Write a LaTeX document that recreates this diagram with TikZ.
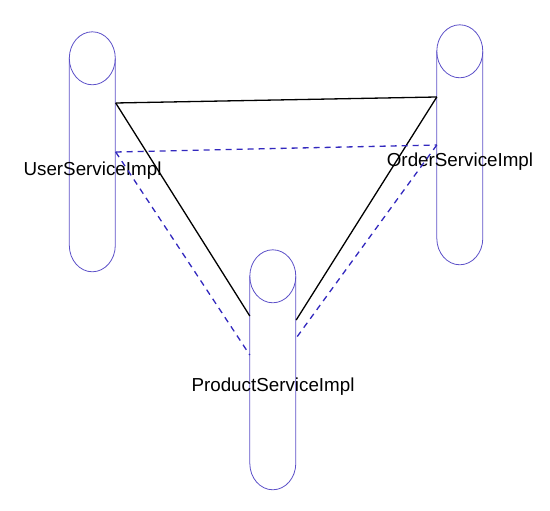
\documentclass[tikz,border=0pt]{standalone}
\usepackage{fontspec}
\setmainfont{Liberation Sans}
\usetikzlibrary{positioning,calc}
\definecolor{svcline}{RGB}{92,80,200}
\definecolor{svcdash}{RGB}{50,40,190}

\begin{document}
\begin{tikzpicture}[x=1pt,y=1pt,
  service/.style={rectangle,minimum height=240pt,minimum width=46pt,inner sep=0pt},
  svcbody/.style={draw=svcline,line width=0.8pt},
  svclabel/.style={anchor=base,font=\fontsize{18.8}{22}\selectfont},
  callline/.style={line width=1.3pt},
  asyncline/.style={svcdash,line width=1.3pt,dash pattern=on 6pt off 5pt}]
\useasboundingbox (0,0) rectangle (550,511);
\node[service] (user) at (92.5,359) {};
\node[service] (order) at (460,366) {};
\node[service] (product) at (273,141) {};
\foreach \n in {user,order,product}{
  \draw[svcbody] ([yshift=-26.5pt]\n.north west) arc[start angle=180,end angle=0,x radius=23,y radius=26.5]
    -- ++(0,-187) arc[start angle=0,end angle=-180,x radius=23,y radius=26.5] -- cycle;
  \draw[svcbody] ([yshift=-26.5pt]\n.north west) arc[start angle=180,end angle=360,x radius=23,y radius=26.5];
}
\node[svclabel] (userlbl) at ([yshift=-24pt]user.center) {UserServiceImpl};
\node[svclabel] (orderlbl) at ([yshift=-22pt]order.center) {OrderServiceImpl};
\node[svclabel] (productlbl) at ([yshift=-22pt]product.center) {ProductServiceImpl};
\draw[callline]([yshift=49pt]user.east) to ([yshift=48pt]order.west);
\draw[callline]([yshift=49pt]user.east) to ([yshift=54pt]product.west);
\draw[callline]([yshift=48pt]order.west) to ([yshift=50pt]product.east);
\draw[asyncline](user.east) to (order.west);
\draw[asyncline](user.east) to ([yshift=15pt]product.west);
\draw[asyncline](order.west) to ([yshift=32pt]product.east);
\end{tikzpicture}
\end{document}
